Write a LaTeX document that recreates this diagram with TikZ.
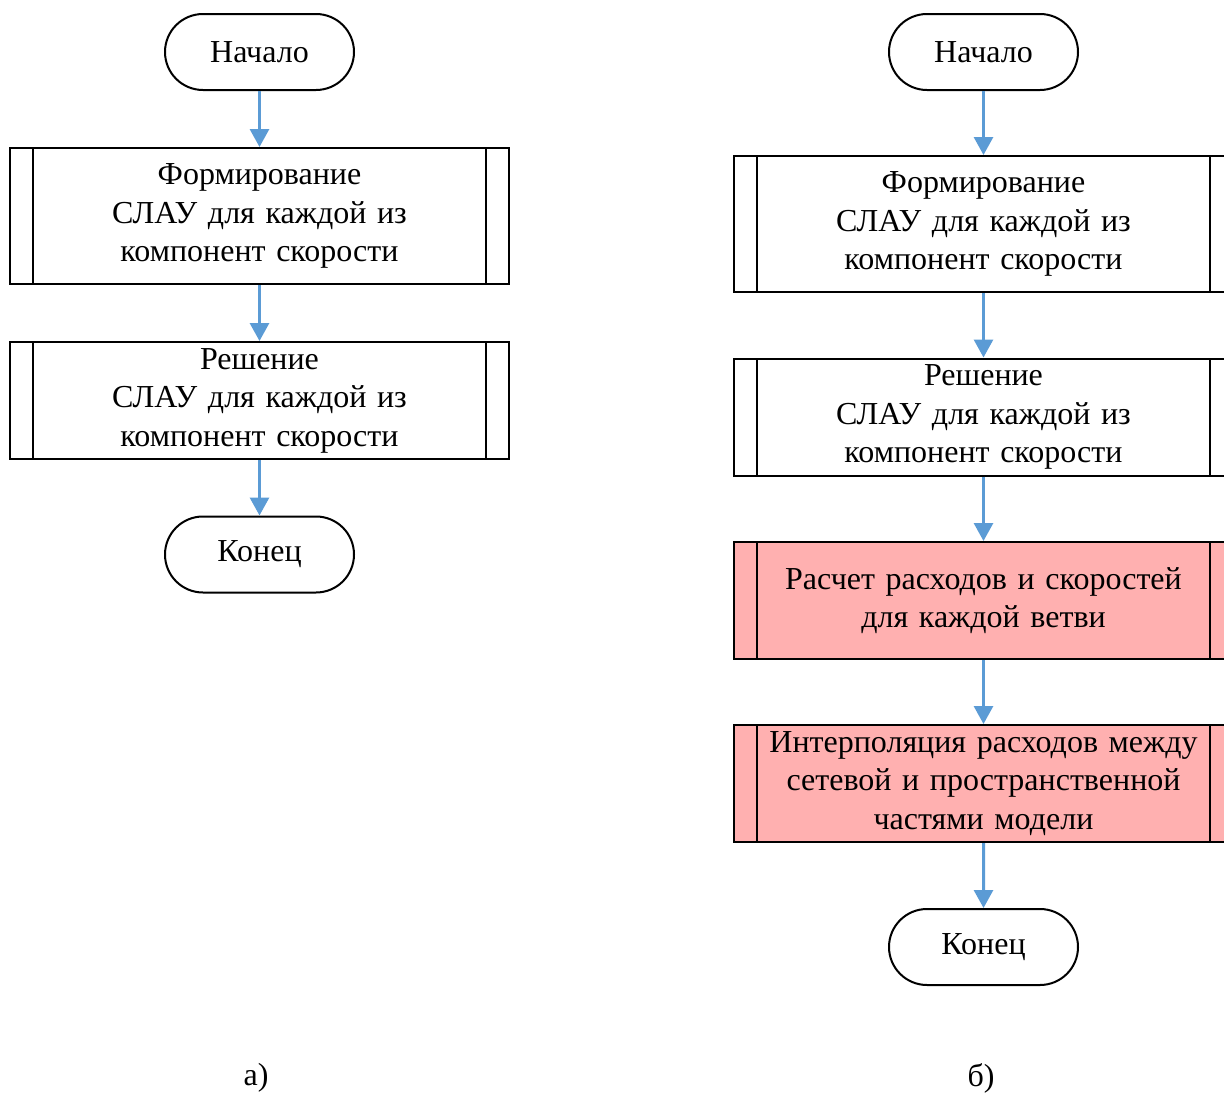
\documentclass[tikz,border=0pt]{standalone}
\usepackage{fontspec}
\setmainfont{Liberation Serif}
\usetikzlibrary{shapes.misc,arrows.meta}
\definecolor{arr}{RGB}{91,155,213}
\definecolor{pnk}{RGB}{255,176,176}
\tikzset{every node/.style={font=\fontsize{32}{38.5}\selectfont,align=center,inner sep=0pt}}
\tikzset{t/.style={rounded rectangle,draw,line width=2pt,minimum width=189pt,minimum height=76pt}}
\tikzset{pr/.style={rectangle,draw,line width=2pt,minimum width=499pt,text width=470pt,
    path picture={\draw[line width=2pt]
      ([xshift=23pt]path picture bounding box.north west) -- ([xshift=23pt]path picture bounding box.south west)
      ([xshift=-23pt]path picture bounding box.north east) -- ([xshift=-23pt]path picture bounding box.south east);}}}
\tikzset{ar/.style={draw=arr,line width=3pt,-{Triangle[width=19pt,length=18pt]}}}

\begin{document}
\begin{tikzpicture}[x=1pt,y=-1pt]
      \clip (0,0) rectangle (1224,1095);
      \node[t] (s1) at (259.5,52) {Начало};
      \node[pr,minimum height=136pt] (f1) at (259.5,216) {Формирование\\СЛАУ для каждой из\\компонент скорости};
      \node[pr,minimum height=117pt] (r1) at (259.5,400.5) {Решение\\СЛАУ для каждой из\\компонент скорости};
      \node[t] (e1) at (259.5,554.5) {Конец};

      \node[t] (s2) at (983.5,52) {Начало};
      \node[pr,minimum height=136pt] (f2) at (983.5,224) {Формирование\\СЛАУ для каждой из\\компонент скорости};
      \node[pr,minimum height=117pt] (r2) at (983.5,417) {Решение\\СЛАУ для каждой из\\компонент скорости};
      \node[pr,fill=pnk,minimum height=117pt] (q2) at (983.5,600.5) {Расчет расходов и скоростей\\для каждой ветви};
      \node[pr,fill=pnk,minimum height=117pt] (i2) at (983.5,783.5) {Интерполяция расходов между\\сетевой и пространственной\\частями модели};
      \node[t] (e2) at (983.5,947) {Конец};

      \node (la) at (256,1078) {а)};
      \node (lb) at (981,1078) {б)};

      \foreach \a/\b in {s1/f1,f1/r1,r1/e1,s2/f2,f2/r2,r2/q2,q2/i2,i2/e2}
        \draw[ar] (\a) -- (\b);
    \end{tikzpicture}
\end{document}
